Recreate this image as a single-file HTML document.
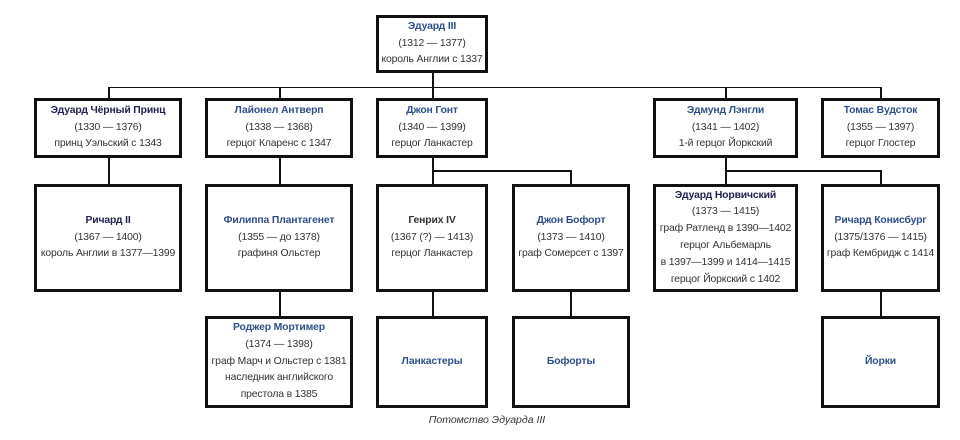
<!DOCTYPE html>
<html><head><meta charset="utf-8"><style>
body{margin:0;width:960px;height:440px;background:#fff;position:relative;overflow:hidden;font-family:"Liberation Sans",sans-serif;}
.b{position:absolute;box-sizing:border-box;border:3px solid #111;background:#fff;display:flex;flex-direction:column;justify-content:center;align-items:center;text-align:center;font-size:10.4px;letter-spacing:-0.15px;line-height:16.8px;color:#333;white-space:nowrap}
.n{font-weight:bold;color:#2f4f8a}
.d{font-weight:bold;color:#22224f}
.k{font-weight:bold;color:#333}
.l{position:absolute;background:#111}
.h{height:1.5px}.v{width:1.5px}
.cap{position:absolute;left:380px;width:214px;top:414px;text-align:center;font-style:italic;font-size:10.5px;color:#333}
</style></head><body>
<div class="l v" style="left:432px;top:72px;height:27px"></div>
<div class="l h" style="left:108px;top:86.5px;width:773px"></div>
<div class="l v" style="left:108px;top:87px;height:12px"></div>
<div class="l v" style="left:279px;top:87px;height:12px"></div>
<div class="l v" style="left:725px;top:87px;height:12px"></div>
<div class="l v" style="left:880px;top:87px;height:12px"></div>
<div class="l v" style="left:108px;top:157px;height:27px"></div>
<div class="l v" style="left:279px;top:157px;height:27px"></div>
<div class="l v" style="left:432px;top:157px;height:27px"></div>
<div class="l h" style="left:432px;top:170px;width:139px"></div>
<div class="l v" style="left:570px;top:170px;height:14px"></div>
<div class="l v" style="left:725px;top:157px;height:27px"></div>
<div class="l h" style="left:725px;top:170px;width:156px"></div>
<div class="l v" style="left:880px;top:170px;height:14px"></div>
<div class="l v" style="left:279px;top:292px;height:25px"></div>
<div class="l v" style="left:432px;top:292px;height:25px"></div>
<div class="l v" style="left:570px;top:292px;height:25px"></div>
<div class="l v" style="left:880px;top:292px;height:25px"></div>
<div class="b" style="left:376px;top:15px;width:112px;height:58px"><span class="n">Эдуард III</span><span>(1312 — 1377)</span><span>король Англии с 1337</span></div>
<div class="b" style="left:34px;top:98px;width:148px;height:60px"><span class="d">Эдуард Чёрный Принц</span><span>(1330 — 1376)</span><span>принц Уэльский с 1343</span></div>
<div class="b" style="left:205px;top:98px;width:148px;height:60px"><span class="n">Лайонел Антверп</span><span>(1338 — 1368)</span><span>герцог Кларенс с 1347</span></div>
<div class="b" style="left:376px;top:98px;width:112px;height:60px"><span class="n">Джон Гонт</span><span>(1340 — 1399)</span><span>герцог Ланкастер</span></div>
<div class="b" style="left:653px;top:98px;width:145px;height:60px"><span class="n">Эдмунд Лэнгли</span><span>(1341 — 1402)</span><span>1-й герцог Йоркский</span></div>
<div class="b" style="left:821px;top:98px;width:119px;height:60px"><span class="n">Томас Вудсток</span><span>(1355 — 1397)</span><span>герцог Глостер</span></div>
<div class="b" style="left:34px;top:184px;width:148px;height:108px"><span class="d">Ричард II</span><span>(1367 — 1400)</span><span>король Англии в 1377—1399</span></div>
<div class="b" style="left:205px;top:184px;width:148px;height:108px"><span class="n">Филиппа Плантагенет</span><span>(1355 — до 1378)</span><span>графиня Ольстер</span></div>
<div class="b" style="left:376px;top:184px;width:112px;height:108px"><span class="k">Генрих IV</span><span>(1367 (?) — 1413)</span><span>герцог Ланкастер</span></div>
<div class="b" style="left:512px;top:184px;width:118px;height:108px"><span class="n">Джон Бофорт</span><span>(1373 — 1410)</span><span>граф Сомерсет с 1397</span></div>
<div class="b" style="left:653px;top:184px;width:145px;height:108px"><span class="d">Эдуард Норвичский</span><span>(1373 — 1415)</span><span>граф Ратленд в 1390—1402</span><span>герцог Альбемарль</span><span>в 1397—1399 и 1414—1415</span><span>герцог Йоркский с 1402</span></div>
<div class="b" style="left:821px;top:184px;width:119px;height:108px"><span class="n">Ричард Конисбург</span><span>(1375/1376 — 1415)</span><span>граф Кембридж с 1414</span></div>
<div class="b" style="left:205px;top:316px;width:148px;height:92px"><span class="n">Роджер Мортимер</span><span>(1374 — 1398)</span><span>граф Марч и Ольстер с 1381</span><span>наследник английского</span><span>престола в 1385</span></div>
<div class="b" style="left:376px;top:316px;width:112px;height:92px"><span class="n">Ланкастеры</span></div>
<div class="b" style="left:512px;top:316px;width:118px;height:92px"><span class="n">Бофорты</span></div>
<div class="b" style="left:821px;top:316px;width:119px;height:92px"><span class="n">Йорки</span></div>
<div class="cap">Потомство Эдуарда III</div>
</body></html>
